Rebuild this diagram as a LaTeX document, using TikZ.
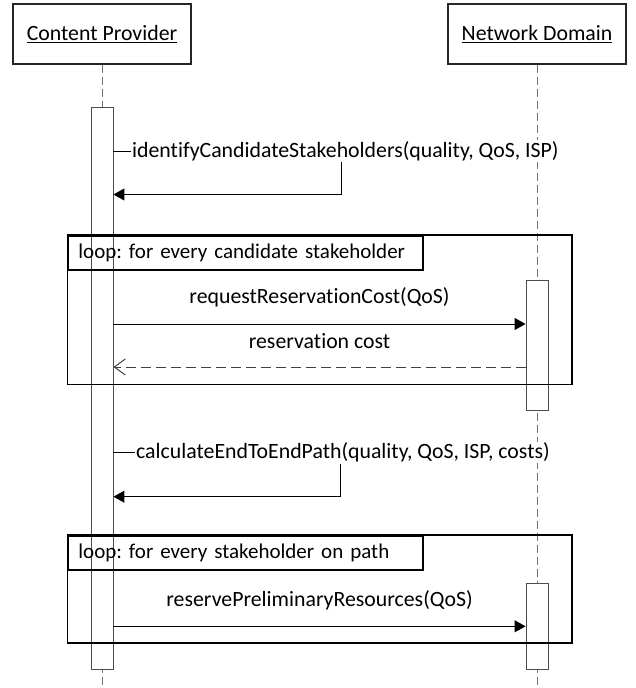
\documentclass[tikz,border=0pt]{standalone}
\usepackage{fontspec}
\setmainfont{Carlito}[Ligatures=NoCommon]
\frenchspacing
\usetikzlibrary{arrows.meta}
\tikzset{
  >=latex,
}
\tikzstyle{actor}=[draw=black!85,line width=1.1pt,minimum width=178pt,minimum height=60pt,inner sep=0pt]
\tikzstyle{lifeline}=[draw=black!55,line width=1pt,dash pattern=on 8pt off 4pt]
\tikzstyle{act}=[draw=black!70,fill=white,line width=0.9pt,minimum width=22pt,inner sep=0pt]
\tikzstyle{call}=[line width=1pt,-{Triangle[length=11pt,width=12pt]}]
\tikzstyle{reply}=[line width=1pt,black!75,dash pattern=on 10pt off 5pt,-{Straight Barb[length=11pt,width=16pt]}]
\tikzstyle{frame}=[line width=1.6pt]
\tikzstyle{looplabel}=[draw,line width=1.6pt,anchor=north west,inner xsep=10pt,inner ysep=0pt,
  text width=334.7pt,minimum height=34pt,align=left,font=\fontsize{21}{25}\selectfont]
\tikzstyle{selflabel}=[anchor=west,fill=white,inner sep=1pt]
\tikzstyle{every node}=[font=\fontsize{21.8}{25}\selectfont]

\begin{document}
\begin{tikzpicture}[x=1pt,y=-1pt]
  \useasboundingbox (0,0) rectangle (636,688);

  % actors
  \node[actor] (cp) at (102,34) {\underline{Content Provider}};
  \node[actor] (nd) at (537,34) {\underline{Network Domain}};

  % lifelines
  \draw[lifeline] (cp.south) -- (cp.south |- 0,688);
  \draw[lifeline] (nd.south) -- (nd.south |- 0,688);

  % activations
  \node[act,minimum height=562pt] (cpact) at (cp |- 0,388) {};
  \node[act,minimum height=129.3pt] (ndact1) at (nd |- 0,345.4) {};
  \node[act,minimum height=86pt] (ndact2) at (nd |- 0,626) {};

  % self call 1
  \node[selflabel] (idlab) at (131,151) {identifyCandidateStakeholders(quality, QoS, ISP)};
  \draw[line width=1pt] (cpact.east |- idlab.west) -- (idlab.west);
  \draw[call] (idlab.south -| 341,0) |- (cpact.east |- 0,194.5);

  % loop 1
  \draw[frame] (67.6,235) rectangle (572,384.3);
  \node[looplabel] (loop1) at (67.6,235) {loop: for every candidate stakeholder};
  \draw[call] (cpact.east |- 0,324) -- (ndact1.west |- 0,324)
    node[midway,yshift=26.5pt] (reqlab) {requestReservationCost(QoS)};
  \draw[reply] (ndact1.west |- 0,367) -- (cpact.east |- 0,367)
    node[midway,yshift=26pt,black] (costlab) {reservation cost};

  % self call 2
  \node[selflabel] (pathlab) at (135,452.7) {calculateEndToEndPath(quality, QoS, ISP, costs)};
  \draw[line width=1pt] (cpact.east |- pathlab.west) -- (pathlab.west);
  \draw[call] (pathlab.south -| 340.6,0) |- (cpact.east |- 0,496.7);

  % loop 2
  \draw[frame] (67.6,535) rectangle (572,643);
  \node[looplabel] (loop2) at (67.6,535) {loop: for every stakeholder on path};
  \draw[call] (cpact.east |- 0,626.3) -- (ndact2.west |- 0,626.3)
    node[midway,yshift=26pt] (reslab) {reservePreliminaryResources(QoS)};
\end{tikzpicture}
\end{document}
